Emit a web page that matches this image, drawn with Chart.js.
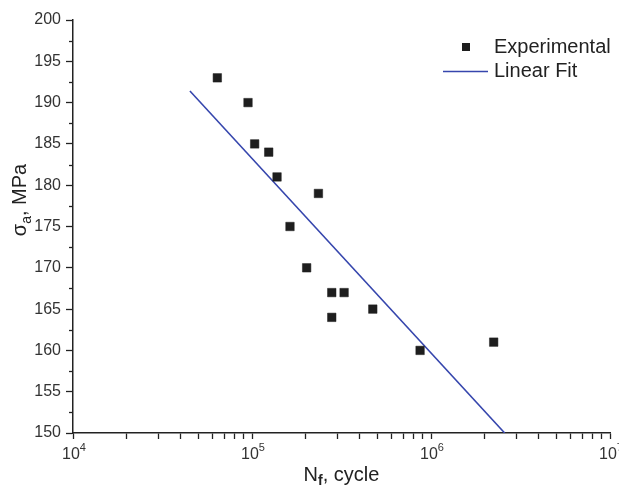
<!DOCTYPE html>
<html>
<head>
<meta charset="utf-8">
<script src="https://cdn.jsdelivr.net/npm/chart.js@4.4.1/dist/chart.umd.min.js"></script>
<style>
    html, body { margin: 0; padding: 0; background: #fff; }
    #wrap { width: 619px; height: 488px; }
</style>
</head>
<body>
<div id="wrap"><canvas id="snChart"></canvas></div>
<script>
// experimental points (cycles to failure, stress amplitude)
const cycles = [64000, 95000, 103500, 124000, 138000, 163000, 235000, 202000, 279000, 327000, 279000, 473000, 869000, 2240000];
const stress = [193, 190, 185, 184, 181, 175, 179, 170, 167, 167, 164, 165, 160, 161];

// linear fit end points
const fitCycles = [45000, 2580000];
const fitStress = [191.4, 150];

const decades = [4, 5, 6, 7];
const yMinorTicks = [152.5, 157.5, 162.5, 167.5, 172.5, 177.5, 182.5, 187.5, 192.5, 197.5];

const FONT = "'Liberation Sans', Arial, sans-serif";

window.onload = function () {
    // tick values 1..9 x 10^n for the log axis
    let xTickValues = [];
    decades.forEach(function (d, i) {
        for (let m = 1; m <= 9; m++) {
            if (i === decades.length - 1 && m > 1) break;
            xTickValues.push(m * Math.pow(10, d));
        }
    });

    // minor ticks on y, x labels with superscripts, axis titles, legend
    const extrasPlugin = {
        id: 'extras',
        afterDraw(chart) {
            const ctx = chart.ctx;
            const area = chart.chartArea;
            const y = chart.scales.y;
            const x = chart.scales.x;
            ctx.save();
            ctx.strokeStyle = '#222';
            ctx.lineWidth = 1.3;
            yMinorTicks.forEach(v => {
                const py = Math.round(y.getPixelForValue(v)) + 0.5;
                ctx.beginPath();
                ctx.moveTo(area.left - 4, py);
                ctx.lineTo(area.left, py);
                ctx.stroke();
            });

            // decade labels 10^n
            ctx.fillStyle = '#333';
            ctx.textBaseline = 'alphabetic';
            decades.forEach(d => {
                const px = x.getPixelForValue(Math.pow(10, d));
                ctx.font = '16px ' + FONT;
                const wb = ctx.measureText('10').width;
                ctx.font = '11px ' + FONT;
                const we = ctx.measureText(String(d)).width;
                const left = px - (wb + we) / 2 + 1;
                ctx.font = '16px ' + FONT;
                ctx.fillText('10', left, 459);
                ctx.font = '11px ' + FONT;
                ctx.fillText(String(d), left + wb, 451);
            });

            ctx.fillStyle = '#222';

            // y title: σa, MPa
            ctx.save();
            ctx.translate(26, 200);
            ctx.rotate(-Math.PI / 2);
            const big = '20px ' + FONT, small = '14px ' + FONT;
            ctx.font = big;
            const w1 = ctx.measureText('\u03c3').width;
            const w3 = ctx.measureText(', MPa').width;
            ctx.font = small;
            const w2 = ctx.measureText('a').width;
            let x0 = -(w1 + w2 + w3) / 2;
            ctx.font = big;
            ctx.fillText('\u03c3', x0, 0);
            ctx.font = small;
            ctx.fillText('a', x0 + w1, 5);
            ctx.font = big;
            ctx.fillText(', MPa', x0 + w1 + w2, 0);
            ctx.restore();

            // x title: Nf, cycle
            const cx = (area.left + area.right) / 2;
            ctx.font = big;
            const n1 = ctx.measureText('N').width;
            const n3 = ctx.measureText(', cycle').width;
            ctx.font = 'bold 14px ' + FONT;
            const n2 = ctx.measureText('f').width;
            let xs = cx - (n1 + n2 + n3) / 2;
            ctx.font = big;
            ctx.fillText('N', xs, 481);
            ctx.font = 'bold 14px ' + FONT;
            ctx.fillText('f', xs + n1, 485);
            ctx.font = big;
            ctx.fillText(', cycle', xs + n1 + n2, 481);

            // legend inside the plot
            const ds = chart.data.datasets;
            ctx.font = '20px ' + FONT;
            ctx.textBaseline = 'middle';
            ctx.fillStyle = ds[0].backgroundColor;
            ctx.fillRect(462, 43, 8, 8);
            ctx.strokeStyle = ds[1].borderColor;
            ctx.lineWidth = 1.5;
            ctx.beginPath();
            ctx.moveTo(443, 71.5);
            ctx.lineTo(488, 71.5);
            ctx.stroke();
            ctx.fillStyle = '#222';
            ctx.fillText(ds[0].label, 494, 47);
            ctx.fillText(ds[1].label, 494, 71);
            ctx.restore();
        }
    };

    const ctx = document.getElementById('snChart').getContext('2d');
    new Chart(ctx, {
        type: 'scatter',
        data: {
            datasets: [{
                label: 'Experimental',
                data: cycles.map((c, i) => ({ x: c, y: stress[i] })),
                pointStyle: 'rect',
                pointRadius: 6,
                borderWidth: 0.5,
                backgroundColor: '#1e1e1e',
                borderColor: '#1e1e1e'
            }, {
                label: 'Linear Fit',
                type: 'line',
                data: fitCycles.map((c, i) => ({ x: c, y: fitStress[i] })),
                borderColor: '#3646ad',
                borderWidth: 1.6,
                pointRadius: 0,
                fill: false
            }]
        },
        options: {
            responsive: true,
            maintainAspectRatio: false,
            animation: false,
            layout: { padding: { top: 20, right: 9, left: 0, bottom: 0 } },
            plugins: {
                legend: { display: false },
                tooltip: { enabled: false }
            },
            scales: {
                x: {
                    type: 'logarithmic',
                    min: 1e4,
                    max: 1e7,
                    afterBuildTicks: function (scale) {
                        scale.ticks = xTickValues.map(v => ({ value: v }));
                    },
                    afterFit: function (scale) { scale.height = 55; },
                    ticks: {
                        autoSkip: false,
                        maxRotation: 0,
                        callback: function () { return ''; }
                    },
                    grid: { drawOnChartArea: false, drawTicks: true, tickLength: 6, tickColor: '#222', tickWidth: 1.3 },
                    border: { color: '#222', width: 1.5 }
                },
                y: {
                    min: 150,
                    max: 200,
                    afterFit: function (scale) { scale.width = 73; },
                    ticks: {
                        stepSize: 5,
                        padding: 5,
                        color: '#333',
                        font: { family: FONT, size: 16 }
                    },
                    grid: { drawOnChartArea: false, drawTicks: true, tickLength: 7, tickColor: '#222', tickWidth: 1.3 },
                    border: { color: '#222', width: 1.5 }
                }
            }
        },
        plugins: [extrasPlugin]
    });
};
</script>
</body>
</html>
